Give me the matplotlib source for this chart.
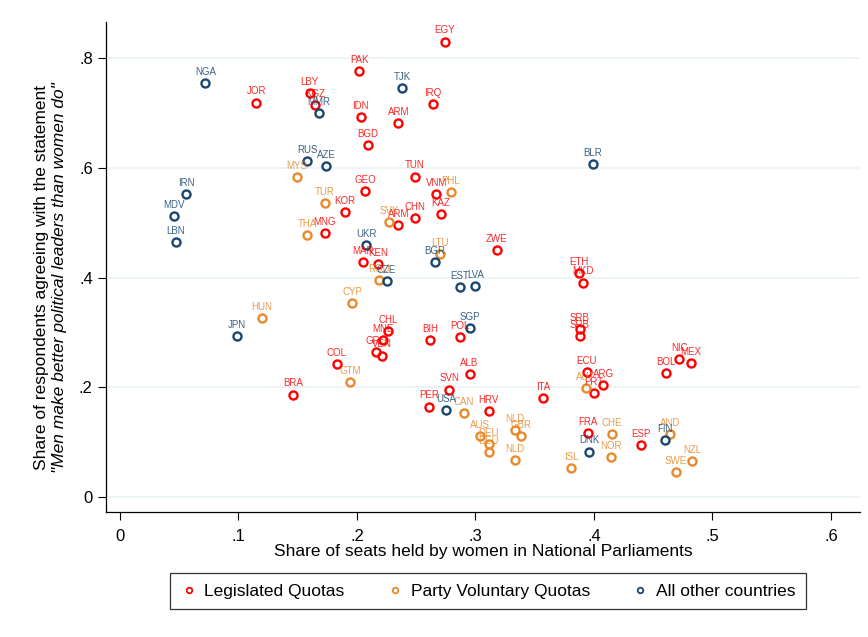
import matplotlib
matplotlib.use("Agg")
import matplotlib.pyplot as plt
from matplotlib.lines import Line2D

plt.rcParams['font.family'] = ['Liberation Sans', 'DejaVu Sans']

# Legislated quotas
leg_names = ["EGY", "PAK", "JOR", "LBY", "KGZ", "IRQ", "IDN", "ARM", "BGD", "TUN",
             "GEO", "VNM", "KOR", "KAZ", "CHN", "ARM", "MNG", "ZWE", "MAR", "KEN",
             "ETH", "MKD", "CHL", "MNE", "BIH", "POL", "SRB", "SRB", "GRC", "VEN",
             "COL", "NIC", "MEX", "BOL", "ECU", "ARG", "PRT", "ALB", "SVN", "BRA",
             "ITA", "PER", "HRV", "FRA", "ESP"]
leg_x = [0.274, 0.202, 0.115, 0.160, 0.165, 0.264, 0.203, 0.235, 0.209, 0.249,
         0.207, 0.267, 0.190, 0.271, 0.249, 0.235, 0.173, 0.318, 0.205, 0.218,
         0.387, 0.391, 0.226, 0.222, 0.262, 0.287, 0.388, 0.388, 0.216, 0.221,
         0.183, 0.472, 0.482, 0.461, 0.394, 0.408, 0.400, 0.295, 0.278, 0.146,
         0.357, 0.261, 0.311, 0.395, 0.440]
leg_y = [0.830, 0.776, 0.719, 0.736, 0.714, 0.716, 0.693, 0.681, 0.641, 0.584,
         0.557, 0.552, 0.520, 0.516, 0.508, 0.496, 0.481, 0.450, 0.428, 0.425,
         0.408, 0.391, 0.303, 0.286, 0.286, 0.291, 0.307, 0.293, 0.264, 0.258,
         0.242, 0.252, 0.245, 0.226, 0.228, 0.205, 0.190, 0.224, 0.196, 0.187,
         0.181, 0.165, 0.157, 0.117, 0.095]

# Party voluntary quotas
vol_names = ["MYS", "PHL", "TUR", "SVK", "THA", "LTU", "ROU", "CYP", "HUN", "GTM",
             "AUT", "CAN", "AUS", "DEU", "DEU", "NLD", "GBR", "NLD", "CHE", "NOR",
             "ISL", "AND", "NZL", "SWE"]
vol_x = [0.149, 0.279, 0.173, 0.227, 0.158, 0.270, 0.219, 0.196, 0.120, 0.194,
         0.393, 0.290, 0.304, 0.311, 0.311, 0.333, 0.338, 0.333, 0.415, 0.414,
         0.381, 0.464, 0.483, 0.469]
vol_y = [0.583, 0.556, 0.536, 0.502, 0.478, 0.443, 0.395, 0.354, 0.326, 0.209,
         0.198, 0.153, 0.111, 0.096, 0.082, 0.123, 0.112, 0.067, 0.115, 0.073,
         0.053, 0.115, 0.065, 0.046]

# All other countries
oth_names = ["NGA", "TJK", "MMR", "RUS", "AZE", "BLR", "IRN", "MDV", "LBN", "UKR",
             "CZE", "BGR", "EST", "LVA", "SGP", "JPN", "USA", "DNK", "FIN"]
oth_x = [0.072, 0.238, 0.168, 0.158, 0.174, 0.399, 0.056, 0.046, 0.047, 0.208,
         0.225, 0.266, 0.287, 0.300, 0.295, 0.099, 0.275, 0.396, 0.460]
oth_y = [0.755, 0.745, 0.699, 0.612, 0.603, 0.607, 0.553, 0.512, 0.464, 0.459,
         0.394, 0.428, 0.382, 0.385, 0.308, 0.293, 0.158, 0.083, 0.104]

groups = [
    ("Legislated Quotas", leg_names, leg_x, leg_y, "#ff0000"),
    ("Party Voluntary Quotas", vol_names, vol_x, vol_y, "#e8892c"),
    ("All other countries", oth_names, oth_x, oth_y, "#1a476f"),
]

fig = plt.figure(figsize=(8.68, 6.37), dpi=100)
ax = fig.add_axes([0.1221, 0.196, 0.8687, 0.7694])

for label, names, xs, ys, col in groups:
    ax.plot(xs, ys, linestyle="none", marker="o", ms=5.8, mew=1.7,
            mfc="none", mec=col, zorder=3, clip_on=False)
    for n, xv, yv in zip(names, xs, ys):
        ax.annotate(n, (xv, yv), xytext=(0, 8), textcoords="offset points",
                    ha="center", va="center", fontsize=7, color=col,
                    alpha=0.85, zorder=4, annotation_clip=False)

ax.set_xlim(-0.0118, 0.6245)
ax.set_ylim(-0.0273, 0.8656)
ax.set_xticks([0, 0.1, 0.2, 0.3, 0.4, 0.5, 0.6])
ax.set_xticklabels(["0", ".1", ".2", ".3", ".4", ".5", ".6"])
ax.set_yticks([0, 0.2, 0.4, 0.6, 0.8])
ax.set_yticklabels(["0", ".2", ".4", ".6", ".8"])
ax.tick_params(axis="both", labelsize=12, length=6, width=0.8, color="black")
ax.tick_params(axis="x", pad=6)
ax.yaxis.grid(True, color="#eaf2f3", linewidth=1.2)
ax.set_axisbelow(True)
for s in ["top", "right"]:
    ax.spines[s].set_visible(False)
for s in ["left", "bottom"]:
    ax.spines[s].set_linewidth(0.9)

ax.set_xlabel("Share of seats held by women in National Parliaments", fontsize=12.5, labelpad=0)
ax.text(-0.085, 0.478, "Share of respondents agreeing with the statement",
        transform=ax.transAxes, rotation=90, ha="center", va="center", fontsize=12.5)
ax.text(-0.061, 0.478, '"Men make better political leaders than women do"',
        transform=ax.transAxes, rotation=90, ha="center", va="center",
        fontsize=12.5, style="italic")

handles = [Line2D([], [], linestyle="none", marker="o", ms=4, mew=1.3, mfc="none",
                  mec=g[4], label=g[0]) for g in groups]
leg = fig.legend(handles=handles, loc="center", bbox_to_anchor=(0.562, 0.072),
                 ncol=3, fontsize=12.5, frameon=True, fancybox=False,
                 edgecolor="black", handletextpad=0.4, columnspacing=2.4,
                 borderpad=0.6, handlelength=1.0)
leg.get_frame().set_linewidth(0.9)

fig.savefig("out.png", dpi=100)
